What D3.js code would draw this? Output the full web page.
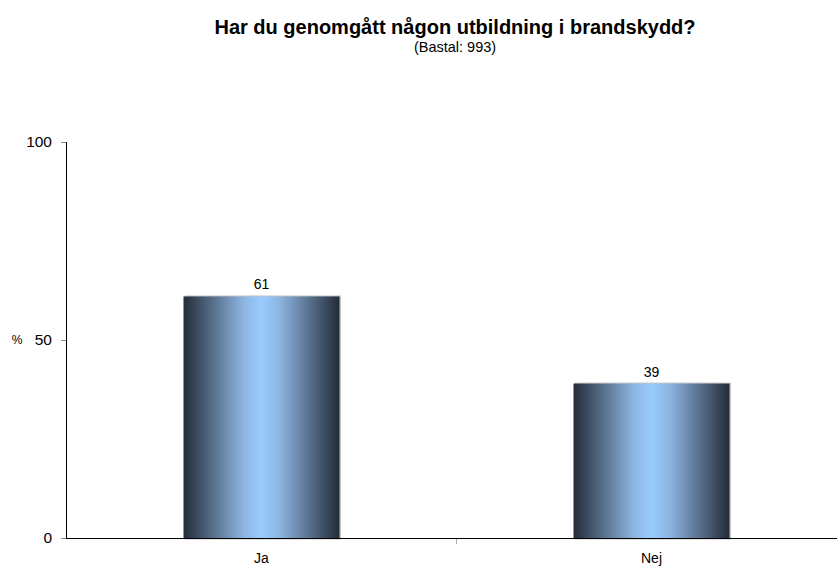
<!DOCTYPE html>
<html>
<head>
<meta charset="utf-8">
<script src="https://cdn.jsdelivr.net/npm/d3@7"></script>
<style>
  body { margin: 0; background: #fff; }
  svg { display: block; font-family: "Liberation Sans", Arial, sans-serif; }
</style>
</head>
<body>
<div id="chart"></div>
<script>
var categories = ["Ja", "Nej"];
var values = [61, 39];
var yTicks = [0, 50, 100];

var width = 837, height = 567;
var margin = {top: 142, right: -9, bottom: 29, left: 66};
var chartWidth = width - margin.left - margin.right;
var chartHeight = height - margin.top - margin.bottom;
var font = '"Liberation Sans", Arial, sans-serif';

var svg = d3.select('#chart').append('svg')
    .attr('width', width)
    .attr('height', height);

var defs = svg.append('defs');
var grad = defs.append('linearGradient')
    .attr('id', 'barGrad')
    .attr('x1', '0%').attr('x2', '100%')
    .attr('y1', '0%').attr('y2', '0%');
[[0, '#232c38'], [0.2, '#5a7390'], [0.38, '#8cb4df'], [0.5, '#99ccff'],
 [0.62, '#8cb4df'], [0.8, '#5a7390'], [1, '#232c38']].forEach(function(s) {
  grad.append('stop').attr('offset', s[0]).attr('stop-color', s[1]);
});

// title
svg.append('text')
    .attr('x', 455).attr('y', 34)
    .attr('text-anchor', 'middle')
    .attr('font-size', 20)
    .attr('font-weight', 'bold')
    .text('Har du genomgått någon utbildning i brandskydd?');
svg.append('text')
    .attr('x', 455).attr('y', 52)
    .attr('text-anchor', 'middle')
    .attr('font-size', 14.5)
    .text('(Bastal: 993)');

var g = svg.append('g')
    .attr('transform', `translate(${margin.left}, ${margin.top})`);

var xScale = d3.scaleBand()
    .domain(categories)
    .range([0.5, chartWidth + 0.5])
    .paddingInner(0.6)
    .paddingOuter(0.3);

var yScale = d3.scaleLinear()
    .domain([0, 100])
    .range([chartHeight, 0]);

// bars with a soft shadow
var bars = g.selectAll('.bar')
    .data(values)
    .enter().append('g')
    .attr('class', 'bar');

bars.append('rect')
    .attr('x', function(d, i) { return xScale(categories[i]) + 1.5; })
    .attr('y', function(d) { return yScale(d) - 1; })
    .attr('width', xScale.bandwidth())
    .attr('height', function(d) { return chartHeight - yScale(d) + 2.5; })
    .attr('fill', '#c4c4c4');

bars.append('rect')
    .attr('x', function(d, i) { return xScale(categories[i]); })
    .attr('y', function(d) { return yScale(d); })
    .attr('width', xScale.bandwidth())
    .attr('height', function(d) { return chartHeight - yScale(d); })
    .attr('fill', 'url(#barGrad)');

bars.append('text')
    .attr('x', function(d, i) { return xScale(categories[i]) + xScale.bandwidth() / 2; })
    .attr('y', function(d) { return yScale(d) - 7; })
    .attr('text-anchor', 'middle')
    .attr('font-size', 14)
    .attr('fill', '#000')
    .text(function(d) { return d; });

// y axis
var yAxis = g.append('g')
    .call(d3.axisLeft(yScale).tickValues(yTicks).tickSize(5).tickPadding(9));
yAxis.select('.domain').attr('stroke', '#000').attr('d', `M0.5,0V${chartHeight}`);
yAxis.selectAll('.tick line').attr('stroke', '#888');
yAxis.selectAll('.tick text').attr('font-size', 15.5).attr('fill', '#000')
    .attr('font-family', font);

// x axis
var xAxis = g.append('g')
    .attr('transform', `translate(0,${chartHeight})`)
    .call(d3.axisBottom(xScale).tickSize(0).tickPadding(15));
xAxis.select('.domain').attr('stroke', '#000').attr('stroke-width', 1.2)
    .attr('d', `M0,0.5H${chartWidth}`);
xAxis.selectAll('.tick text').attr('font-size', 14).attr('fill', '#000')
    .attr('font-family', font);

// separator tick between categories
var step = xScale.step();
g.selectAll('.sep')
    .data(categories.slice(1))
    .enter().append('line')
    .attr('class', 'sep')
    .attr('x1', function(d) { return xScale(d) - (step - xScale.bandwidth()) / 2; })
    .attr('x2', function(d) { return xScale(d) - (step - xScale.bandwidth()) / 2; })
    .attr('y1', chartHeight + 1)
    .attr('y2', chartHeight + 6)
    .attr('stroke', '#aaa');

// y axis unit label
svg.append('text')
    .attr('x', 17).attr('y', yScale(50) + margin.top + 4)
    .attr('text-anchor', 'middle')
    .attr('font-size', 12)
    .text('%');
</script>
</body>
</html>
